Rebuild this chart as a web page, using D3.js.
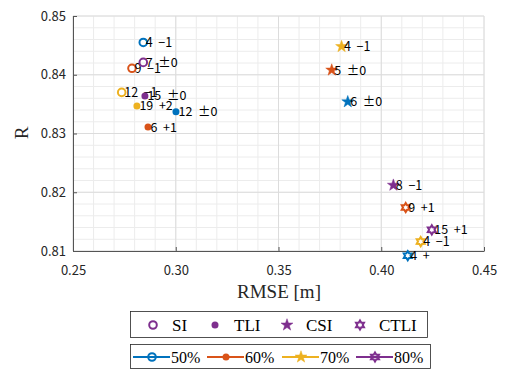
<!DOCTYPE html>
<html>
<head>
<meta charset="utf-8">
<script src="https://cdn.jsdelivr.net/npm/d3@7"></script>
<style>
body { margin: 0; background: #fff; }
svg { display: block; }
</style>
</head>
<body>
<script>
// methods (marker shapes) and overlap thresholds (colours)
var methods = ["SI", "TLI", "CSI", "CTLI"];
var levels = ["50%", "60%", "70%", "80%"];
var colors = ["#0072BD", "#D95319", "#EDB120", "#7E2F8E"];

// values per level, in order SI, TLI, CSI, CTLI
var rmse50 = [0.2842, 0.3001, 0.3837, 0.4129];
var r50 = [0.8455, 0.8337, 0.8354, 0.8092];
var lab50 = ["4  \u22121", "12  \u00b10", "6  \u00b10", "4  +"];

var rmse60 = [0.2787, 0.2865, 0.3759, 0.4119];
var r60 = [0.8411, 0.8311, 0.8408, 0.8174];
var lab60 = ["9  \u22121", "6  +1", "5  \u00b10", "9  +1"];

var rmse70 = [0.2737, 0.2811, 0.3807, 0.4192];
var r70 = [0.8370, 0.8347, 0.8448, 0.8116];
var lab70 = ["12  \u22121", "19  +2", "4  \u22121", "4  \u22121"];

var rmse80 = [0.2842, 0.2850, 0.4059, 0.4246];
var r80 = [0.8421, 0.8364, 0.8212, 0.8136];
var lab80 = ["7  \u00b10", "15  \u00b10", "8  \u22121", "15  +1"];

var xTicks = [0.25, 0.30, 0.35, 0.40, 0.45];
var yTicks = [0.81, 0.82, 0.83, 0.84, 0.85];

var groups = [
  {x: rmse50, y: r50, t: lab50},
  {x: rmse60, y: r60, t: lab60},
  {x: rmse70, y: r70, t: lab70},
  {x: rmse80, y: r80, t: lab80}
];

var width = 508, height = 370;
var svg = d3.select("body").append("svg")
    .attr("width", width)
    .attr("height", height);

var x = d3.scaleLinear().domain([0.25, 0.45]).range([73, 484]);
var y = d3.scaleLinear().domain([0.81, 0.85]).range([251, 16]);

// grid, minor then major
var gx = d3.range(0.25, 0.4501, 0.01);
var gy = d3.range(0.81, 0.8501, 0.002);
svg.append("g").selectAll("line").data(gx).enter().append("line")
    .attr("x1", d => x(d)).attr("x2", d => x(d))
    .attr("y1", y(0.81)).attr("y2", y(0.85))
    .style("stroke", "#ececec").style("stroke-width", 1);
svg.append("g").selectAll("line").data(gy).enter().append("line")
    .attr("y1", d => y(d)).attr("y2", d => y(d))
    .attr("x1", x(0.25)).attr("x2", x(0.45))
    .style("stroke", "#ececec").style("stroke-width", 1);
svg.append("g").selectAll("line").data(xTicks).enter().append("line")
    .attr("x1", d => x(d)).attr("x2", d => x(d))
    .attr("y1", y(0.81)).attr("y2", y(0.85))
    .style("stroke", "#dcdcdc").style("stroke-width", 1);
svg.append("g").selectAll("line").data(yTicks).enter().append("line")
    .attr("y1", d => y(d)).attr("y2", d => y(d))
    .attr("x1", x(0.25)).attr("x2", x(0.45))
    .style("stroke", "#dcdcdc").style("stroke-width", 1);

// axes, ticks pointing inward
var xAxis = svg.append("g").attr("transform", "translate(0," + y(0.81) + ")")
    .call(d3.axisBottom(x).tickValues(xTicks).tickFormat(d3.format(".2f")).tickSizeInner(-4).tickSizeOuter(0).tickPadding(15));
var yAxis = svg.append("g").attr("transform", "translate(" + x(0.25) + ",0)")
    .call(d3.axisLeft(y).tickValues(yTicks).tickFormat(d3.format(".2f")).tickSizeInner(-4).tickSizeOuter(0).tickPadding(7));
[xAxis, yAxis].forEach(function(a) {
  a.select(".domain").style("stroke", "#555");
  a.selectAll(".tick line").style("stroke", "#555");
  a.selectAll("text").style("font-family", "'Noto Sans CJK JP', 'Noto Sans', sans-serif")
    .style("font-size", "13px").style("fill", "#262626");
});

svg.append("text").attr("x", 279).attr("y", 298)
    .attr("text-anchor", "middle")
    .style("font-family", "'Liberation Serif', 'DejaVu Serif', serif")
    .style("font-size", "19px").style("fill", "#262626")
    .text("RMSE [m]");
svg.append("text").attr("transform", "translate(28,133) rotate(-90)")
    .attr("text-anchor", "middle")
    .style("font-family", "'Liberation Serif', 'DejaVu Serif', serif")
    .style("font-size", "19px").style("fill", "#262626")
    .text("R");

// star path with n points
function starPath(n, R, r) {
  var pts = [];
  for (var i = 0; i < 2 * n; i++) {
    var a = -Math.PI / 2 + i * Math.PI / n;
    var rad = i % 2 === 0 ? R : r;
    pts.push([rad * Math.cos(a), rad * Math.sin(a)]);
  }
  return "M" + pts.map(p => p[0].toFixed(2) + "," + p[1].toFixed(2)).join("L") + "Z";
}

function drawMarker(g, m, c, cx, cy) {
  if (m === 0) {
    g.append("circle").attr("cx", cx).attr("cy", cy).attr("r", 3.8)
      .style("fill", "none").style("stroke", c).style("stroke-width", 2);
  } else if (m === 1) {
    g.append("circle").attr("cx", cx).attr("cy", cy).attr("r", 3.5)
      .style("fill", c);
  } else if (m === 2) {
    g.append("path").attr("d", starPath(5, 6.3, 2.5))
      .attr("transform", "translate(" + cx + "," + cy + ")")
      .style("fill", c).style("stroke", c).style("stroke-width", 0.5);
  } else {
    g.append("path").attr("d", starPath(6, 4.6, 2.7))
      .attr("transform", "translate(" + cx + "," + cy + ")")
      .style("fill", "none").style("stroke", c).style("stroke-width", 2);
  }
}

var pg = svg.append("g");
groups.forEach(function(gr, k) {
  gr.x.forEach(function(v, i) {
    drawMarker(pg, i, colors[k], x(v), y(gr.y[i]));
  });
  gr.x.forEach(function(v, i) {
    pg.append("text").attr("x", x(v) + 2.5).attr("y", y(gr.y[i]) + 4.5)
      .style("font-family", "'Noto Sans CJK JP', sans-serif")
      .style("font-size", "12.5px").style("fill", "#000")
      .style("white-space", "pre")
      .text(gr.t[i]);
  });
});

// legend for methods
var lg1 = svg.append("g");
lg1.append("rect").attr("x", 130.5).attr("y", 311.5).attr("width", 297).attr("height", 26)
  .style("fill", "#fff").style("stroke", "#262626").style("stroke-width", 0.8);
var l1x = [153, 215, 287, 360];
methods.forEach(function(m, i) {
  drawMarker(lg1, i, "#7E2F8E", l1x[i], 325);
  lg1.append("text").attr("x", l1x[i] + 19).attr("y", 331)
    .style("font-family", "'Liberation Serif', serif")
    .style("font-size", "17px").style("fill", "#000")
    .text(m);
});

// legend for levels
var lg2 = svg.append("g");
lg2.append("rect").attr("x", 130.5).attr("y", 344.5).attr("width", 300).attr("height", 24)
  .style("fill", "#fff").style("stroke", "#262626").style("stroke-width", 0.8);
var l2x = [133, 207, 282, 356];
levels.forEach(function(l, i) {
  lg2.append("line").attr("x1", l2x[i]).attr("x2", l2x[i] + 37)
    .attr("y1", 357).attr("y2", 357)
    .style("stroke", colors[i]).style("stroke-width", 2);
  drawMarker(lg2, i, colors[i], l2x[i] + 19, 357);
  lg2.append("text").attr("x", l2x[i] + 38).attr("y", 362.5)
    .style("font-family", "'Liberation Serif', serif")
    .style("font-size", "16px").style("fill", "#000")
    .text(l);
});
</script>
</body>
</html>
